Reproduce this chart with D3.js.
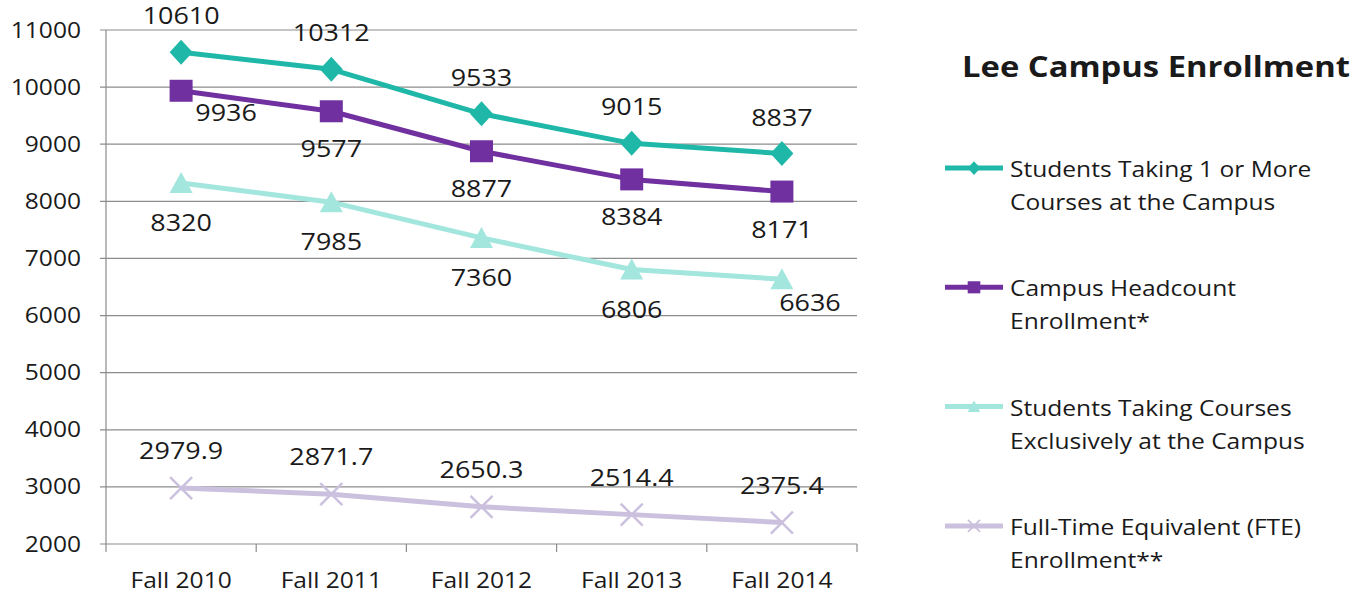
<!DOCTYPE html>
<html><head><meta charset="utf-8">
<script src="https://cdn.jsdelivr.net/npm/d3@7"></script>
<style>html,body{margin:0;padding:0;background:#fff;}svg{display:block;}</style>
</head><body>
<svg id="chart" width="1367" height="594"></svg>
<script>
const categories = ["Fall 2010","Fall 2011","Fall 2012","Fall 2013","Fall 2014"];
const yTicks = [2000,3000,4000,5000,6000,7000,8000,9000,10000,11000];
const seriesNames = [
  ["Students Taking 1 or More","Courses at the Campus"],
  ["Campus Headcount","Enrollment*"],
  ["Students Taking Courses","Exclusively at the Campus"],
  ["Full-Time Equivalent (FTE)","Enrollment**"]
];
const oneOrMore = [10610,10312,9533,9015,8837];
const headcount = [9936,9577,8877,8384,8171];
const exclusive = [8320,7985,7360,6806,6636];
const fte = [2979.9,2871.7,2650.3,2514.4,2375.4];
const labelText4 = ["2979.9","2871.7","2650.3","2514.4","2375.4"];
const title = "Lee Campus Enrollment";

const series = [
  {values: oneOrMore, color:"#1fb8a8", marker:"diamond", pos:-36, width:5},
  {values: headcount, color:"#7030a0", marker:"square", pos:38, width:5},
  {values: exclusive, color:"#a2e6de", marker:"triangle", pos:40, width:5},
  {values: fte, color:"#cbc1de", marker:"x", pos:-37, width:5, labels: labelText4}
];
// special label nudges [series][index] = [dx, dy]
const nudges = {"1-0":[45,-16], "2-4":[28,-16]};

const svg = d3.select("#chart");
const FONT = "'Open Sans', 'Liberation Sans', sans-serif";
const SX = 1.17;
const TXT = "#1a1a1a";

const x = d3.scaleBand().domain(categories).range([106,857]);
const y = d3.scaleLinear().domain([2000,11000]).range([544,30]);

function stext(g, str, px, py, size, anchor, weight){
  const gg = g.append("g").attr("transform",`translate(${px},${py}) scale(${SX},1)`);
  gg.append("text").attr("x",0).attr("y",0)
    .attr("text-anchor",anchor||"middle")
    .attr("font-family",FONT).attr("font-size",size)
    .attr("font-weight",weight||"normal").attr("fill",TXT).text(str);
  return gg;
}

// gridlines
const grid = svg.append("g");
grid.selectAll("line").data(yTicks).join("line")
  .attr("x1",100).attr("x2",857)
  .attr("y1",d=>y(d)).attr("y2",d=>y(d))
  .attr("stroke","#8c8c8c").attr("stroke-width",1.2);
// left axis
svg.append("line").attr("x1",106).attr("x2",106).attr("y1",y(11000)).attr("y2",y(2000))
  .attr("stroke","#8c8c8c").attr("stroke-width",1.2);
// bottom ticks
const bt = categories.map(c=>x(c)).concat([x(categories[categories.length-1])+x.bandwidth()]);
svg.append("g").selectAll("line").data(bt).join("line")
  .attr("x1",d=>d).attr("x2",d=>d).attr("y1",y(2000)).attr("y2",y(2000)+8)
  .attr("stroke","#8c8c8c").attr("stroke-width",1.2);

// y tick labels
const yl = svg.append("g");
yTicks.forEach(t=>stext(yl, String(t), 81, y(t)+7.5, 21, "end"));
// x labels
const xl = svg.append("g");
categories.forEach(c=>stext(xl, c, x(c)+x.bandwidth()/2, 588, 21, "middle"));

function markerPath(type, s){
  if(type==="diamond"){const a=11.5*s,b=12.5*s;return `M0,${-b}L${a},0L0,${b}L${-a},0Z`;}
  if(type==="square"){const a=11.5*s,b=11*s;return `M${-a},${-b}H${a}V${b}H${-a}Z`;}
  if(type==="triangle"){const a=11.5*s,b=10*s;return `M0,${-b-1*s}L${a},${b}L${-a},${b}Z`;}
  if(type==="x"){const a=11*s;return `M${-a},${-a}L${a},${a}M${a},${-a}L${-a},${a}`;}
}

const cx = c=>x(c)+x.bandwidth()/2;
const line = d3.line().x((d,i)=>cx(categories[i])).y(d=>y(d));

const plot = svg.append("g");
series.slice().reverse().forEach(s=>{
  plot.append("path").attr("d",line(s.values)).attr("fill","none")
    .attr("stroke",s.color).attr("stroke-width",s.width).attr("stroke-linejoin","round");
});
series.forEach(s=>{
  s.values.forEach((v,i)=>{
    const p = plot.append("path").attr("d",markerPath(s.marker,1))
      .attr("transform",`translate(${cx(categories[i])},${y(v)})`);
    if(s.marker==="x") p.attr("fill","none").attr("stroke",s.color).attr("stroke-width",2.5);
    else p.attr("fill",s.color);
  });
});
// value labels
const vl = svg.append("g");
series.forEach((s,si)=>{
  s.values.forEach((v,i)=>{
    const n = nudges[si+"-"+i]||[0,0];
    const lbl = s.labels? s.labels[i] : String(v);
    stext(vl, lbl, cx(categories[i])+n[0], y(v)+s.pos+n[1]+8, 23, "middle");
  });
});

// title
stext(svg, title, 1156, 77, 28, "middle", "bold");

// legend
const lg = svg.append("g");
series.forEach((s,i)=>{
  const ly = 168 + i*119.3;
  lg.append("line").attr("x1",945).attr("x2",1003).attr("y1",ly).attr("y2",ly)
    .attr("stroke",s.color).attr("stroke-width",5);
  const m = lg.append("path").attr("d",markerPath(s.marker,0.55)).attr("transform",`translate(974,${ly})`);
  if(s.marker==="x") m.attr("fill","none").attr("stroke",s.color).attr("stroke-width",1.8);
  else m.attr("fill",s.color);
  stext(lg, seriesNames[i][0], 1010, ly+9, 21, "start");
  stext(lg, seriesNames[i][1], 1010, ly+42, 21, "start");
});
</script>
</body></html>
